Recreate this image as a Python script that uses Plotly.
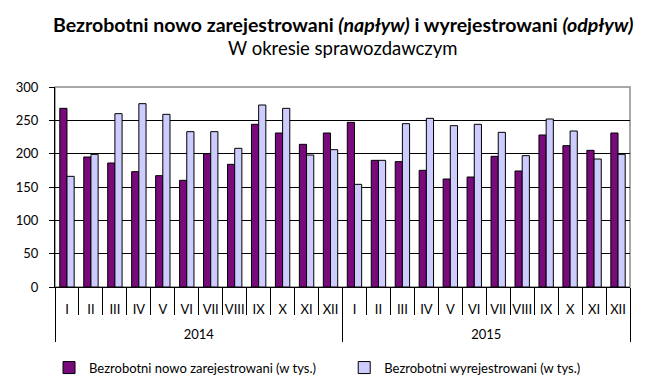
import plotly.graph_objects as go

years = ["2014"] * 12 + ["2015"] * 12
months = ["I", "II", "III", "IV", "V", "VI", "VII", "VIII", "IX", "X", "XI", "XII"] * 2

nowo_zarejestrowani = [268, 195, 186, 173, 167, 160, 200, 184, 244, 231, 214, 231,
                       247, 190, 188, 175, 162, 165, 196, 174, 228, 212, 205, 231]
wyrejestrowani = [166, 199, 260, 275, 259, 233, 233, 208, 273, 268, 198, 206,
                  154, 190, 245, 253, 242, 244, 232, 197, 252, 234, 192, 199]

y_ticks = [0, 50, 100, 150, 200, 250, 300]

title_text = "<b>Bezrobotni nowo zarejestrowani <i>(napływ)</i> i wyrejestrowani <i>(odpływ)</i></b>"
subtitle_text = "W okresie sprawozdawczym"

FONT = "Lato, 'Open Sans', sans-serif"

# year labels sit one line lower under the month labels
year_labels = ["<br>" + y for y in years]

fig = go.Figure()
fig.add_trace(go.Bar(
    x=[year_labels, months], y=nowo_zarejestrowani,
    name="Bezrobotni nowo zarejestrowani (w tys.)",
    marker=dict(color="#780A7C", line=dict(color="#000000", width=1)),
    legend="legend",
))
fig.add_trace(go.Bar(
    x=[year_labels, months], y=wyrejestrowani,
    name="Bezrobotni wyrejestrowani (w tys.)",
    marker=dict(color="#CCCCFF", line=dict(color="#000000", width=1)),
    legend="legend2",
))

legend_common = dict(orientation="h", yanchor="middle", y=-0.403, xanchor="left",
                     font=dict(size=13, family=FONT, color="#000000"), itemwidth=30,
                     bgcolor="rgba(0,0,0,0)")

# page body has an 8px default margin, so the figure is drawn 8px right/down
fig.update_layout(
    width=652, height=383,
    margin=dict(l=47, r=30, t=79, b=104, autoexpand=False),
    paper_bgcolor="white", plot_bgcolor="white",
    font=dict(family=FONT, size=12, color="#000000"),
    barmode="group", bargap=0.4, bargroupgap=0,
    showlegend=True,
    legend=dict(legend_common, x=-0.0104),
    legend2=dict(legend_common, x=0.503),
    annotations=[
        dict(text=title_text, xref="paper", yref="paper", x=0.5, y=1.315,
             xanchor="center", yanchor="middle", showarrow=False,
             font=dict(size=19.5, family=FONT, color="#000000")),
        dict(text=subtitle_text, xref="paper", yref="paper", x=0.5, y=1.197,
             xanchor="center", yanchor="middle", showarrow=False,
             font=dict(size=18.5, family=FONT, color="#000000")),
    ],
    shapes=[dict(type="rect", xref="x domain", yref="y domain", x0=0, x1=1, y0=0, y1=1,
                 line=dict(color="#8C8C8C", width=1.5), layer="below")],
)

fig.update_xaxes(
    type="multicategory", automargin=False,
    showline=True, linecolor="#000000", linewidth=1,
    ticks="outside", tickson="boundaries", ticklen=27, tickcolor="#000000", tickwidth=1,
    showdividers=True, dividercolor="#000000", dividerwidth=1,
    tickangle=0, ticklabelstandoff=10,
    tickfont=dict(size=13, family=FONT),
    showgrid=False,
)
fig.update_yaxes(
    range=[0, 300], tickvals=y_ticks, automargin=False,
    showline=True, linecolor="#000000", linewidth=1,
    ticks="outside", ticklen=5, tickcolor="#000000",
    ticklabelstandoff=8,
    showgrid=True, gridcolor="#000000", gridwidth=1,
    tickfont=dict(size=13, family=FONT),
    zeroline=False,
)

fig.write_html("out.html")
